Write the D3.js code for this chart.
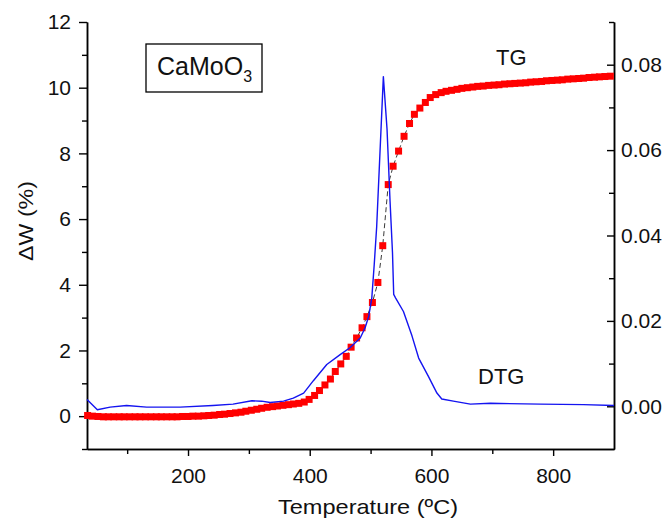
<!DOCTYPE html>
<html>
<head>
<meta charset="utf-8">
<script src="https://cdn.jsdelivr.net/npm/d3@7"></script>
<style>
  body { margin: 0; background: #fff; }
  svg { display: block; font-family: "Liberation Sans", Arial, sans-serif; }
</style>
</head>
<body>
<svg id="chart" width="667" height="518"></svg>
<script>
// TG: mass change (%)
const tgTemp = [35, 43, 52, 61, 69, 78, 87, 95, 104, 113,
  121, 130, 139, 148, 156, 165, 174, 182, 191, 200,
  208, 217, 226, 234, 243, 252, 260, 269, 278, 287,
  295, 304, 313, 321, 330, 339, 347, 356, 365, 373,
  382, 391, 399, 408, 416, 425, 434, 442, 451, 460,
  468, 477, 486, 494, 503, 512, 520, 529, 537, 546,
  555, 564, 572, 581, 590, 598, 607, 616, 624, 633,
  642, 650, 659, 668, 676, 685, 694, 703, 711, 720,
  729, 737, 746, 755, 763, 772, 781, 789, 798, 807,
  815, 824, 833, 842, 850, 859, 868, 876, 885, 894];
const tgLoss = [0.02, 0.00, -0.01, -0.02, -0.02, -0.02, -0.02, -0.02, -0.02, -0.02,
  -0.02, -0.02, -0.02, -0.02, -0.02, -0.02, -0.02, -0.02, -0.01, -0.01,
  0.00, 0.00, 0.01, 0.02, 0.03, 0.05, 0.06, 0.08, 0.10, 0.12,
  0.15, 0.18, 0.21, 0.24, 0.27, 0.29, 0.31, 0.33, 0.35, 0.37,
  0.39, 0.43, 0.51, 0.63, 0.78, 0.95, 1.13, 1.36, 1.59, 1.82,
  2.10, 2.38, 2.69, 3.03, 3.46, 4.07, 5.19, 7.05, 7.61, 8.07,
  8.52, 8.91, 9.19, 9.38, 9.55, 9.70, 9.79, 9.85, 9.89, 9.92,
  9.95, 9.98, 10.00, 10.02, 10.04, 10.05, 10.07, 10.08, 10.09, 10.11,
  10.12, 10.13, 10.14, 10.15, 10.17, 10.18, 10.19, 10.21, 10.22, 10.23,
  10.24, 10.26, 10.27, 10.28, 10.29, 10.31, 10.32, 10.33, 10.34, 10.35];

// DTG: blue line, right axis
const dtgTemp = [34, 51, 72, 99, 132, 187, 241, 274, 305, 321,
  335, 357, 373, 390, 406, 428, 450, 466, 483, 491,
  497, 502, 506, 510, 521, 527, 532, 536, 538, 541,
  554, 568, 579, 595, 609, 617, 636, 664, 697, 779,
  850, 900];
const dtgRate = [0.0016, -0.0008, -0.0002, 0.0002, -0.0002, -0.0002, 0.0002, 0.0005, 0.0013, 0.0012,
  0.0009, 0.0012, 0.0019, 0.0031, 0.0060, 0.0098, 0.0121, 0.0137, 0.0160, 0.0184,
  0.0211, 0.0254, 0.0332, 0.0420, 0.0772, 0.0650, 0.0480, 0.0360, 0.0262, 0.0254,
  0.0222, 0.0165, 0.0113, 0.0070, 0.0031, 0.0017, 0.0012, 0.0005, 0.0007, 0.0005,
  0.0004, 0.0002];

// ticks
const xMajor = [200, 400, 600, 800];
const xMinor = [100, 300, 500, 700];
const yLeftMajor = [0, 2, 4, 6, 8, 10, 12];
const yLeftMinor = [-1, 1, 3, 5, 7, 9, 11];
const yRightMajor = [0, 0.02, 0.04, 0.06, 0.08];
const yRightMinor = [0.01, 0.03, 0.05, 0.07, 0.09];

const svg = d3.select("#chart");

const x = d3.scaleLinear().domain([34, 900]).range([87, 614]);
const yL = d3.scaleLinear().domain([-1, 12]).range([449, 22]);
const yR = d3.scaleLinear().domain([-0.01, 0.09]).range([449, 22]);

const tg = tgTemp.map((t, i) => ({ t, v: tgLoss[i] }));
const dtg = dtgTemp.map((t, i) => ({ t, v: dtgRate[i] }));

// axes
function styleAxis(g) {
  g.selectAll(".domain").attr("stroke", "#000").attr("stroke-width", 1.5);
  g.selectAll(".tick line").attr("stroke", "#000").attr("stroke-width", 1.4);
  g.selectAll(".tick text").attr("fill", "#111").style("font-size", "21px");
}

svg.append("g")
  .attr("transform", "translate(87,0)")
  .call(d3.axisLeft(yL).tickValues(yLeftMajor).tickSize(8).tickSizeOuter(0).tickPadding(8))
  .call(styleAxis);
svg.append("g")
  .attr("transform", "translate(87,0)")
  .call(d3.axisLeft(yL).tickValues(yLeftMinor).tickSize(5).tickSizeOuter(0).tickFormat(""))
  .call(styleAxis);

svg.append("g")
  .attr("transform", "translate(614,0)")
  .call(d3.axisRight(yR).tickValues(yRightMajor).tickSize(-7).tickSizeOuter(0).tickPadding(7)
    .tickFormat(d3.format(".2f")))
  .call(styleAxis);
svg.append("g")
  .attr("transform", "translate(614,0)")
  .call(d3.axisRight(yR).tickValues(yRightMinor).tickSize(-5).tickSizeOuter(0).tickFormat(""))
  .call(styleAxis);

svg.append("g")
  .attr("transform", "translate(0,449)")
  .call(d3.axisBottom(x).tickValues(xMajor).tickSize(7).tickSizeOuter(0).tickPadding(12))
  .call(styleAxis);
svg.append("g")
  .attr("transform", "translate(0,449)")
  .call(d3.axisBottom(x).tickValues(xMinor).tickSize(5).tickSizeOuter(0).tickFormat(""))
  .call(styleAxis);

// axis titles
svg.append("text")
  .attr("transform", "translate(33,221) rotate(-90)")
  .attr("text-anchor", "middle")
  .attr("textLength", 80)
  .attr("lengthAdjust", "spacingAndGlyphs")
  .style("font-size", "21px")
  .attr("fill", "#111")
  .text("ΔW (%)");

svg.append("text")
  .attr("x", 368)
  .attr("y", 514)
  .attr("text-anchor", "middle")
  .attr("textLength", 180)
  .attr("lengthAdjust", "spacingAndGlyphs")
  .style("font-size", "21px")
  .attr("fill", "#111")
  .text("Temperature (ºC)");

// TG: dashed connecting line + squares
svg.append("path")
  .datum(tg)
  .attr("fill", "none")
  .attr("stroke", "#222")
  .attr("stroke-width", 0.9)
  .attr("stroke-dasharray", "5,3")
  .attr("d", d3.line().x(d => x(d.t)).y(d => yL(d.v)));

svg.append("g")
  .selectAll("rect")
  .data(tg)
  .join("rect")
  .attr("x", d => x(d.t) - 3.5)
  .attr("y", d => yL(d.v) - 3.5)
  .attr("width", 7)
  .attr("height", 7)
  .attr("fill", "#ff0000");

// DTG line
svg.append("path")
  .datum(dtg)
  .attr("fill", "none")
  .attr("stroke", "#1414f0")
  .attr("stroke-width", 1.4)
  .attr("stroke-linejoin", "round")
  .attr("d", d3.line().x(d => x(d.t)).y(d => yR(d.v)));

// sample label box
svg.append("rect")
  .attr("x", 146)
  .attr("y", 44)
  .attr("width", 116)
  .attr("height", 48)
  .attr("fill", "none")
  .attr("stroke", "#000")
  .attr("stroke-width", 1.3);

const label = svg.append("text")
  .attr("x", 157)
  .attr("y", 75)
  .style("font-size", "25px")
  .attr("fill", "#111");
label.append("tspan").text("CaMoO");
label.append("tspan").attr("dy", 7).style("font-size", "16px").text("3");

svg.append("text")
  .attr("x", 496)
  .attr("y", 65)
  .style("font-size", "22px")
  .attr("fill", "#111")
  .text("TG");

svg.append("text")
  .attr("x", 478)
  .attr("y", 384)
  .style("font-size", "22px")
  .attr("fill", "#111")
  .text("DTG");
</script>
</body>
</html>
